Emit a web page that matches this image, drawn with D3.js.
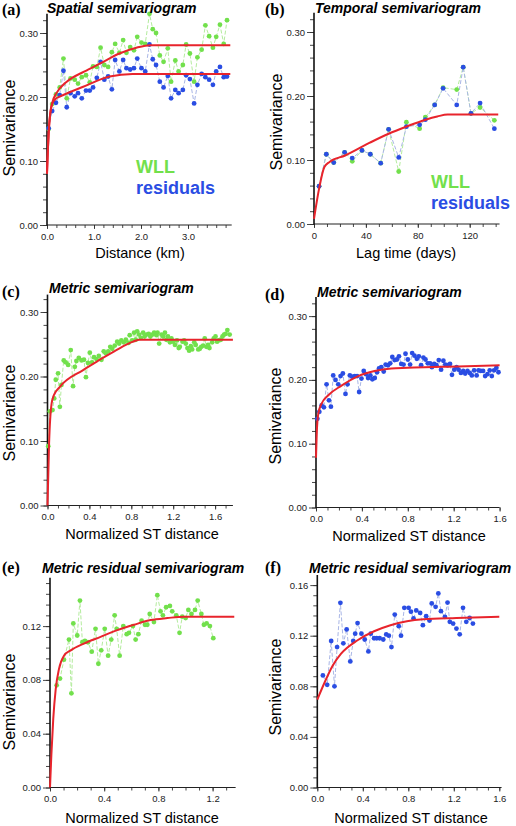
<!DOCTYPE html>
<html><head><meta charset="utf-8">
<script src="https://cdn.jsdelivr.net/npm/d3@7"></script>
<style>body{margin:0;background:#fff}svg{display:block}</style>
</head><body>
<svg id="c" width="516" height="826"></svg>
<script>
// ---------- DATA ----------
// (a) Spatial semivariogram
const aDist = [0.035,0.11,0.19,0.27,0.35,0.42,0.50,0.59,0.66,0.74,0.83,0.91,0.98,1.06,1.14,1.22,1.30,1.38,1.45,1.54,1.62,1.69,1.77,1.85,1.92,2.01,2.09,2.18,2.25,2.32,2.40,2.48,2.57,2.64,2.73,2.80,2.89,2.96,3.04,3.13,3.20,3.29,3.37,3.45,3.53,3.60,3.68,3.76,3.83];
const aWLL = [0.150,0.189,0.204,0.215,0.260,0.198,0.229,0.227,0.221,0.231,0.234,0.223,0.248,0.247,0.277,0.250,0.247,0.270,0.283,0.269,0.289,0.269,0.278,0.273,0.294,0.285,0.283,0.330,0.306,0.300,0.265,0.255,0.276,0.224,0.257,0.240,0.250,0.282,0.268,0.224,0.262,0.274,0.312,0.295,0.277,0.294,0.313,0.283,0.320];
const aRes = [0.151,0.178,0.191,0.203,0.241,0.184,0.206,0.201,0.206,0.198,0.210,0.210,0.215,0.230,0.255,0.227,0.232,0.212,0.258,0.240,0.258,0.245,0.243,0.245,0.260,0.245,0.240,0.282,0.259,0.250,0.224,0.215,0.233,0.198,0.211,0.206,0.211,0.234,0.228,0.190,0.219,0.236,0.231,0.227,0.219,0.240,0.247,0.231,0.232];
const aFitWLLx = [0,0.02,0.04,0.07,0.12,0.20,0.42,0.80,1.12,1.54,1.90,2.20,3.90];
const aFitWLLy = [0.08,0.12,0.15,0.175,0.193,0.206,0.224,0.240,0.252,0.268,0.277,0.281,0.281];
const aFitResx = [0,0.02,0.04,0.07,0.12,0.20,0.28,0.77,1.33,1.82,3.90];
const aFitResy = [0.08,0.12,0.15,0.175,0.191,0.198,0.201,0.216,0.232,0.236,0.236];

// (b) Temporal semivariogram
const bLag = [3.9,9.5,15.2,23.6,29.5,37,43.4,51.4,57.5,65.3,71.2,81.4,85.8,93,99.5,110,115,121,128,139];
const bWLL = [0.059,0.109,0.096,0.112,0.098,0.115,0.109,0.095,0.148,0.082,0.159,0.149,0.167,0.186,0.213,0.210,0.245,0.173,0.182,0.162];
const bRes = [0.059,0.109,0.096,0.112,0.103,0.115,0.109,0.095,0.148,0.104,0.152,0.155,0.163,0.186,0.212,0.186,0.245,0.173,0.189,0.149];
const bFitx = [0,4,8,12,24,43,57.5,71,86,95,103,142];
const bFity = [0.008,0.056,0.089,0.097,0.107,0.127,0.141,0.152,0.163,0.168,0.171,0.171];

// (c) Metric semivariogram (WLL)
const cDist = [0.007,0.022,0.048,0.064,0.079,0.101,0.118,0.133,0.155,0.174,0.197,0.222,0.244,0.261,0.276,0.299,0.325,0.348,0.367,0.386,0.404,0.425,0.444,0.468,0.490,0.515,0.537,0.556,0.580,0.599,0.618,0.642,0.665,0.684,0.705,0.728,0.748,0.773,0.785,0.808,0.827,0.842,0.856,0.874,0.891,0.913,0.927,0.945,0.966,0.982,1.002,1.018,1.040,1.050,1.066,1.088,1.104,1.121,1.135,1.150,1.169,1.183,1.198,1.217,1.236,1.253,1.263,1.289,1.304,1.320,1.336,1.352,1.368,1.381,1.401,1.415,1.439,1.454,1.468,1.486,1.501,1.517,1.533,1.546,1.572,1.587,1.604,1.619,1.633,1.654,1.671,1.686,1.700,1.717,1.739];
const cWLL = [0.092,0.146,0.148,0.166,0.195,0.205,0.153,0.187,0.225,0.222,0.218,0.241,0.185,0.215,0.224,0.229,0.225,0.226,0.199,0.221,0.237,0.222,0.230,0.227,0.232,0.226,0.239,0.236,0.239,0.246,0.243,0.248,0.254,0.251,0.256,0.253,0.257,0.252,0.264,0.256,0.268,0.257,0.270,0.265,0.260,0.268,0.262,0.265,0.266,0.262,0.265,0.268,0.264,0.268,0.251,0.265,0.262,0.268,0.257,0.262,0.253,0.259,0.254,0.249,0.256,0.244,0.246,0.254,0.256,0.251,0.244,0.240,0.247,0.242,0.253,0.249,0.242,0.243,0.246,0.248,0.259,0.246,0.249,0.244,0.253,0.259,0.262,0.254,0.256,0.257,0.262,0.265,0.266,0.272,0.265];
const cFitx = [0,0.015,0.039,0.061,0.118,0.34,0.50,0.657,0.817,0.88,1.77];
const cFity = [0,0.096,0.158,0.171,0.184,0.210,0.226,0.241,0.254,0.257,0.257];

// (d) Metric semivariogram (residuals)
const dDist = [0.012,0.029,0.049,0.069,0.092,0.113,0.13,0.15,0.17,0.194,0.214,0.234,0.257,0.275,0.295,0.315,0.338,0.358,0.376,0.396,0.416,0.436,0.454,0.474,0.491,0.512,0.532,0.549,0.569,0.59,0.607,0.627,0.647,0.665,0.685,0.705,0.723,0.743,0.763,0.78,0.80,0.82,0.838,0.858,0.879,0.896,0.916,0.936,0.954,0.974,0.994,1.01,1.03,1.05,1.07,1.09,1.11,1.127,1.147,1.168,1.185,1.205,1.225,1.243,1.263,1.283,1.30,1.32,1.34,1.358,1.378,1.40,1.416,1.436,1.456,1.474,1.494,1.514,1.532,1.552,1.572,1.59];
const dRes = [0.139,0.150,0.160,0.157,0.193,0.168,0.158,0.207,0.200,0.193,0.206,0.210,0.178,0.193,0.207,0.205,0.206,0.206,0.181,0.202,0.214,0.209,0.203,0.207,0.201,0.203,0.212,0.218,0.220,0.213,0.224,0.223,0.226,0.236,0.231,0.232,0.237,0.225,0.224,0.241,0.232,0.224,0.242,0.238,0.233,0.237,0.223,0.235,0.232,0.226,0.226,0.220,0.225,0.223,0.231,0.216,0.230,0.224,0.223,0.225,0.208,0.216,0.220,0.216,0.211,0.214,0.210,0.214,0.211,0.207,0.215,0.207,0.215,0.214,0.214,0.206,0.209,0.215,0.206,0.215,0.219,0.212];
const dFitx = [0,0.009,0.02,0.049,0.107,0.222,0.367,0.51,0.656,0.80,0.945,1.234,1.60];
const dFity = [0.078,0.126,0.147,0.163,0.176,0.191,0.206,0.214,0.218,0.219,0.220,0.221,0.223];

// (e) Metric residual semivariogram (WLL)
const eDist = [0.049,0.074,0.103,0.140,0.158,0.172,0.201,0.221,0.239,0.258,0.280,0.308,0.336,0.357,0.378,0.404,0.429,0.452,0.477,0.492,0.514,0.541,0.566,0.583,0.612,0.632,0.652,0.676,0.701,0.718,0.736,0.767,0.792,0.816,0.833,0.857,0.885,0.902,0.932,0.956,0.976,1.001,1.021,1.044,1.070,1.090,1.117,1.136,1.156,1.180,1.205];
const eWLL = [0.076,0.081,0.095,0.110,0.070,0.122,0.113,0.139,0.108,0.109,0.108,0.101,0.118,0.092,0.102,0.118,0.098,0.110,0.128,0.118,0.098,0.120,0.114,0.115,0.120,0.110,0.114,0.124,0.121,0.121,0.129,0.123,0.143,0.131,0.128,0.134,0.135,0.131,0.128,0.115,0.127,0.126,0.132,0.129,0.132,0.139,0.129,0.121,0.122,0.120,0.111];
const eFitx = [0,0.010,0.024,0.042,0.066,0.103,0.153,0.25,0.373,0.497,0.62,0.743,0.867,0.99,1.36];
const eFity = [0,0.024,0.051,0.073,0.088,0.098,0.102,0.107,0.112,0.117,0.121,0.1245,0.126,0.127,0.127];

// (f) Metric residual semivariogram (residuals)
const fDist = [0.049,0.087,0.122,0.151,0.174,0.203,0.229,0.258,0.29,0.316,0.333,0.354,0.388,0.417,0.449,0.47,0.499,0.522,0.548,0.58,0.606,0.629,0.652,0.681,0.716,0.736,0.765,0.803,0.823,0.846,0.87,0.904,0.928,0.957,0.986,1.006,1.04,1.064,1.087,1.122,1.145,1.165,1.194,1.223,1.252,1.281,1.31,1.339,1.368];
const fRes = [0.0886,0.0812,0.1158,0.080,0.111,0.146,0.114,0.125,0.0997,0.1158,0.1216,0.130,0.1216,0.117,0.1076,0.1216,0.118,0.118,0.118,0.117,0.121,0.120,0.111,0.1367,0.1275,0.120,0.142,0.142,0.139,0.1336,0.140,0.138,0.1283,0.1354,0.132,0.1455,0.1428,0.1534,0.1394,0.1349,0.1462,0.131,0.1296,0.1256,0.1211,0.142,0.131,0.134,0.1296];
const fFitx = [0,0.064,0.136,0.209,0.354,0.499,0.643,0.788,0.933,1.223,1.60];
const fFity = [0.0695,0.083,0.0965,0.1058,0.1164,0.1235,0.1283,0.1314,0.133,0.134,0.135];

// Tick labels
const tick3 = [0,0.1,0.2,0.3];
const tickKm = [0,1,2,3];
const tickDays = [0,40,80,120];
const tickST = [0,0.4,0.8,1.2,1.6];
const tickST3 = [0,0.4,0.8,1.2];
const tick016 = [0,0.04,0.08,0.12,0.16];
const tick012 = [0,0.04,0.08,0.12];

// ---------- DRAW ----------
const svg = d3.select("#c");
const GREEN = "#72e04c", GREEN_L = "#b4ec9e", BLUE = "#2a4de3", BLUE_L = "#a9b6e6", RED = "#e8242c";
const SANS = "'Liberation Sans', Arial, sans-serif";

function zip(xs, ys){ return xs.map((x,i)=>[x, ys[i]]); }

function panel(p){
  const g = svg.append("g");
  const x = d3.scaleLinear().domain([0, p.xmax]).range([p.x0, p.x0 + p.xmax/p.xu*p.xpx]);
  const y = d3.scaleLinear().domain([0, p.ymax]).range([p.y0, p.y0 - p.ymax/p.yu*p.ypx]);

  const ymin = g.append("g").attr("transform",`translate(${p.x0},0)`)
    .call(d3.axisLeft(y).tickValues(p.yMinor).tickSize(4).tickFormat(""));
  const ymaj = g.append("g").attr("transform",`translate(${p.x0},0)`)
    .call(d3.axisLeft(y).tickValues(p.yTicks).tickSize(7).tickPadding(2).tickFormat(d3.format(".2f")));
  const xmin = g.append("g").attr("transform",`translate(0,${p.y0})`)
    .call(d3.axisBottom(x).tickValues(p.xMinor).tickSize(3).tickFormat(""));
  const xmaj = g.append("g").attr("transform",`translate(0,${p.y0})`)
    .call(d3.axisBottom(x).tickValues(p.xTicks).tickSize(4).tickPadding(4).tickFormat(p.xfmt));
  [ymin,ymaj,xmin,xmaj].forEach(a=>{
    a.select(".domain").remove();
    a.selectAll("line").attr("stroke","#333").attr("stroke-width",0.9);
    a.selectAll("text").attr("font-family",SANS).attr("font-size",9.5).attr("fill","#222");
  });
  g.append("line").attr("x1",x(0)).attr("x2",x(p.xmax)).attr("y1",y(0)).attr("y2",y(0))
    .attr("stroke","#222").attr("stroke-width",1.1);
  g.append("line").attr("x1",x(0)).attr("x2",x(0)).attr("y1",y(0)+0.5).attr("y2",y(p.ymax))
    .attr("stroke","#111").attr("stroke-width",1.6);

  const line = d3.line().x(d=>x(d[0])).y(d=>y(d[1]));
  p.series.forEach(s=>{
    g.append("path").attr("d", line(s.pts)).attr("fill","none")
      .attr("stroke", s.light).attr("stroke-width",1).attr("stroke-dasharray","4,2");
  });
  p.series.forEach(s=>{
    g.append("g").selectAll("circle").data(s.pts).join("circle")
      .attr("cx",d=>x(d[0])).attr("cy",d=>y(d[1])).attr("r",2.4).attr("fill",s.color);
  });
  const fl = d3.line().x(d=>x(d[0])).y(d=>y(d[1])).curve(d3.curveMonotoneX);
  p.fits.forEach(f=>{
    g.append("path").attr("d", fl(f)).attr("fill","none").attr("stroke",RED).attr("stroke-width",2);
  });

  svg.append("text").attr("x",p.letter[0]).attr("y",p.letter[1]).text(p.id)
    .attr("font-family","'Liberation Serif','DejaVu Serif',serif").attr("font-weight","bold").attr("font-size",16);
  svg.append("text").attr("x",p.title[0]).attr("y",p.title[1]).text(p.titleText)
    .attr("font-family",SANS).attr("font-weight","bold").attr("font-style","italic").attr("font-size",14);
  svg.append("text").attr("transform",`translate(${p.ylab[0]},${p.ylab[1]}) rotate(-90)`)
    .attr("text-anchor","middle").text("Semivariance")
    .attr("font-family",SANS).attr("font-size",16);
  svg.append("text").attr("x",p.xlab[0]).attr("y",p.xlab[1]).attr("text-anchor","middle").text(p.xlabText)
    .attr("font-family",SANS).attr("font-size",14.5);
  if (p.legend){
    svg.append("text").attr("x",p.legend[0]).attr("y",p.legend[1]).text("WLL")
      .attr("font-family",SANS).attr("font-weight","bold").attr("font-size",18).attr("fill",GREEN);
    svg.append("text").attr("x",p.legend[0]).attr("y",p.legend[1]+21).text("residuals")
      .attr("font-family",SANS).attr("font-weight","bold").attr("font-size",18).attr("fill",BLUE);
  }
}

const minor = (a,b,s)=>d3.range(0, Math.round(b/s)+1).map(i=>+(i*s).toFixed(4)).filter(v=>v<=b+1e-9);

panel({id:"(a)", titleText:"Spatial semivariogram", xlabText:"Distance (km)",
  x0:47, xu:1, xpx:47, xmax:3.93, y0:225, yu:0.1, ypx:64, ymax:0.33,
  xTicks:tickKm, xMinor:minor(0,3.9,0.2), xfmt:d3.format(".1f"),
  yTicks:tick3, yMinor:minor(0,0.32,0.02),
  series:[{pts:zip(aDist,aWLL),color:GREEN,light:GREEN_L},{pts:zip(aDist,aRes),color:BLUE,light:BLUE_L}],
  fits:[zip(aFitWLLx,aFitWLLy), zip(aFitResx,aFitResy)],
  letter:[2,15], title:[47,13], ylab:[15,128], xlab:[140,258], legend:[136,173]});

panel({id:"(b)", titleText:"Temporal semivariogram", xlabText:"Lag time (days)",
  x0:314, xu:40, xpx:51.9, xmax:143, y0:224, yu:0.1, ypx:64, ymax:0.33,
  xTicks:tickDays, xMinor:minor(0,140,10), xfmt:d3.format("d"),
  yTicks:tick3, yMinor:minor(0,0.32,0.02),
  series:[{pts:zip(bLag,bWLL),color:GREEN,light:GREEN_L},{pts:zip(bLag,bRes),color:BLUE,light:BLUE_L}],
  fits:[zip(bFitx,bFity)],
  letter:[265,15], title:[315,13], ylab:[282,122], xlab:[406,258], legend:[431,188]});

panel({id:"(c)", titleText:"Metric semivariogram", xlabText:"Normalized ST distance",
  x0:47.5, xu:0.4, xpx:41.9, xmax:1.77, y0:505.5, yu:0.1, ypx:64.5, ymax:0.327,
  xTicks:tickST, xMinor:minor(0,1.7,0.1), xfmt:d3.format(".1f"),
  yTicks:tick3, yMinor:minor(0,0.32,0.02),
  series:[{pts:zip(cDist,cWLL),color:GREEN,light:GREEN_L}],
  fits:[zip(cFitx,cFity)],
  letter:[2,297], title:[49,293], ylab:[15,413], xlab:[142,539]});

panel({id:"(d)", titleText:"Metric semivariogram", xlabText:"Normalized ST distance",
  x0:316, xu:0.4, xpx:45.9, xmax:1.6, y0:507.5, yu:0.1, ypx:63.8, ymax:0.33,
  xTicks:tickST, xMinor:minor(0,1.6,0.1), xfmt:d3.format(".1f"),
  yTicks:tick3, yMinor:minor(0,0.32,0.02),
  series:[{pts:zip(dDist,dRes),color:BLUE,light:BLUE_L}],
  fits:[zip(dFitx,dFity)],
  letter:[265,300], title:[317,297], ylab:[281,416], xlab:[409,541]});

panel({id:"(e)", titleText:"Metric residual semivariogram", xlabText:"Normalized ST distance",
  x0:50, xu:0.4, xpx:54.2, xmax:1.37, y0:787.5, yu:0.04, ypx:53.8, ymax:0.156,
  xTicks:tickST3, xMinor:minor(0,1.3,0.1), xfmt:d3.format(".1f"),
  yTicks:tick012, yMinor:minor(0,0.152,0.008),
  series:[{pts:zip(eDist,eWLL),color:GREEN,light:GREEN_L}],
  fits:[zip(eFitx,eFity)],
  letter:[2,573], title:[42,573], ylab:[15,702], xlab:[142,823]});

panel({id:"(f)", titleText:"Metric residual semivariogram", xlabText:"Normalized ST distance",
  x0:317.3, xu:0.4, xpx:45.5, xmax:1.62, y0:787.5, yu:0.04, ypx:50.6, ymax:0.168,
  xTicks:tickST, xMinor:minor(0,1.6,0.1), xfmt:d3.format(".1f"),
  yTicks:tick016, yMinor:minor(0,0.16,0.008),
  series:[{pts:zip(fDist,fRes),color:BLUE,light:BLUE_L}],
  fits:[zip(fFitx,fFity)],
  letter:[265,573], title:[309,573], ylab:[281,687], xlab:[411,823]});
</script>
</body></html>
